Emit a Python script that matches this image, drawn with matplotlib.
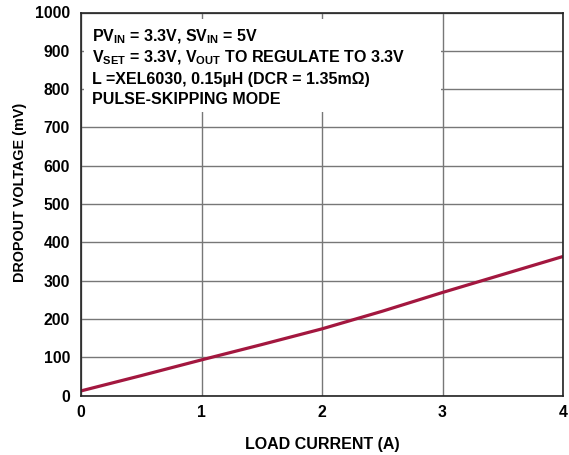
import matplotlib
matplotlib.use("Agg")
import matplotlib.pyplot as plt
from matplotlib.patches import Rectangle

load_current = [0, 0.5, 1, 1.5, 2, 2.5, 3, 3.5, 4]
dropout_mv = [12, 52, 93, 133, 174, 220, 269, 316, 363]
x_ticks = [0, 1, 2, 3, 4]
y_ticks = [0, 100, 200, 300, 400, 500, 600, 700, 800, 900, 1000]
notes = [
    r"PV$_{\mathrm{IN}}$ = 3.3V, SV$_{\mathrm{IN}}$ = 5V",
    r"V$_{\mathrm{SET}}$ = 3.3V, V$_{\mathrm{OUT}}$ TO REGULATE TO 3.3V",
    r"L =XEL6030, 0.15µH (DCR = 1.35mΩ)",
    r"PULSE-SKIPPING MODE",
]

plt.rcParams["font.family"] = ["Liberation Sans", "DejaVu Sans"]
plt.rcParams["font.weight"] = "bold"
plt.rcParams["mathtext.fontset"] = "custom"
plt.rcParams["mathtext.rm"] = "Liberation Sans:bold"
plt.rcParams["mathtext.it"] = "Liberation Sans:bold"
plt.rcParams["mathtext.bf"] = "Liberation Sans:bold"
plt.rcParams["mathtext.default"] = "rm"

fig = plt.figure(figsize=(5.69, 4.55), dpi=100)
ax = fig.add_axes([81 / 569, 1 - 395.5 / 455, (563 - 81) / 569, (395.5 - 12.5) / 455])

ax.plot(load_current, dropout_mv, color="#A3173F", lw=2.3, zorder=3, solid_capstyle="butt")

ax.set_xlim(0, 4)
ax.set_ylim(0, 1000)
ax.set_xticks(x_ticks)
ax.set_yticks(y_ticks)
ax.set_xticklabels([str(t) for t in x_ticks], fontsize=11.3, fontweight="bold")
ax.set_yticklabels([str(t) for t in y_ticks], fontsize=11.3, fontweight="bold")
ax.tick_params(axis="x", length=0, pad=7)
ax.tick_params(axis="y", length=0, pad=8)
ax.grid(True, color="#777777", lw=1.0, zorder=1)
for s in ax.spines.values():
    s.set_linewidth(1.2)
    s.set_color("#222222")
    s.set_zorder(5)

ax.set_xlabel("LOAD CURRENT (A)", fontsize=11.5, fontweight="bold", labelpad=12)
ax.set_ylabel("DROPOUT VOLTAGE (mV)", fontsize=10.4, fontweight="bold")
ax.yaxis.set_label_coords(-0.112, 0.53)

# white box behind notes
box = Rectangle((0.025, 740), 2.96, 243, facecolor="white", edgecolor="none", zorder=2)
ax.add_patch(box)

y_pos = [41, 62, 84, 104]
for txt, yp in zip(notes, y_pos):
    fig.text(92 / 569, 1 - yp / 455, txt, fontsize=11.5, fontweight="bold",
             ha="left", va="baseline", zorder=6)

fig.savefig("out.png", dpi=100)
